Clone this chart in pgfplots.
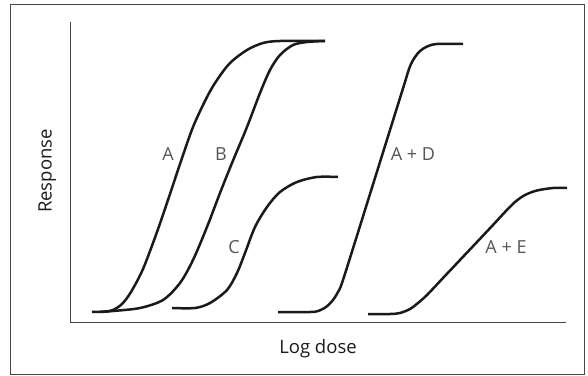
\documentclass[border=0pt]{standalone}
\usepackage{pgfplots}
\pgfplotsset{compat=1.18}
\usepackage{fontspec}
\setmainfont{Open Sans}
\definecolor{ink}{RGB}{26,26,26}
\definecolor{frame}{RGB}{70,70,70}
\definecolor{lbl}{RGB}{85,85,85}

\begin{document}
\begin{tikzpicture}[x=1pt,y=1pt]
% page area and outer frame
\path (0,0) rectangle (588,375);
\draw[frame, line width=1pt] (10,1) rectangle (584,370);
\begin{axis}[
    at={(70,53)}, anchor=south west,
    scale only axis,
    width=496pt, height=300pt,
    xmin=70, xmax=566, ymin=0, ymax=300,
    axis x line*=bottom, axis y line*=left,
    axis line style={frame, line width=0.9pt, -},
    xtick=\empty, ytick=\empty,
    xlabel={Log dose}, ylabel={Response},
    label style={font=\fontsize{18.5}{22}\selectfont, color=ink},
    xlabel style={at={(axis description cs:0.5,0)}, anchor=center, yshift=-27pt},
    ylabel style={at={(axis description cs:-0.046,0.503)}, anchor=center},
    clip=false,
    curve/.style={ink, line width=2.5pt, smooth, tension=0.5, mark=none},
]
% A
\addplot[curve] coordinates {(92,10)(105,10.5)(113,12)(122,18)(131,30)(143,53)(157,90)(170,128)(180,158)(193,195)(207,225)(217,242)(230,259)(247,272)(263,279)(280,281)(325,281)};
% B
\addplot[curve] coordinates {(100,10)(113,11)(140,14)(163,22)(180,39)(193,62)(207,95)(220,129)(232,159)(247,195)(260,229)(270,252)(280,267)(293,277)(307,280)(325,281)};
% C
\addplot[curve] coordinates {(172,14)(195,14)(210,19)(227,32)(237,49)(245,69)(255,95)(267,115)(280,130)(297,140)(317,145)(338,145)};
% A + D
\addplot[curve] coordinates {(278,10)(310,10)(318,11)(326,15)(333,22)(338,30)(342,39)(355,80)(370,128)(385,176)(400,224)(405,240)(408,250)(411,258)(415,265)(420,271)(427,275.5)(437,278)(463,278)};
% A + E
\addplot[curve] coordinates {(368,8)(390,8)(400,9)(410,13)(418,19)(427,27)(443,44)(460,62)(477,80)(493,97)(505,110)(515,120)(525,127)(537,131.5)(553,134)(567,134)};
\begin{scope}[every node/.style={font=\fontsize{18}{22}\selectfont, color=lbl}]
\node at (axis cs:168,168) {A};
\node at (axis cs:221,168) {B};
\node at (axis cs:234,75) {C};
\node at (axis cs:413,168) {A + D};
\node at (axis cs:506,75) {A + E};
\end{scope}
\end{axis}
\end{tikzpicture}
\end{document}
